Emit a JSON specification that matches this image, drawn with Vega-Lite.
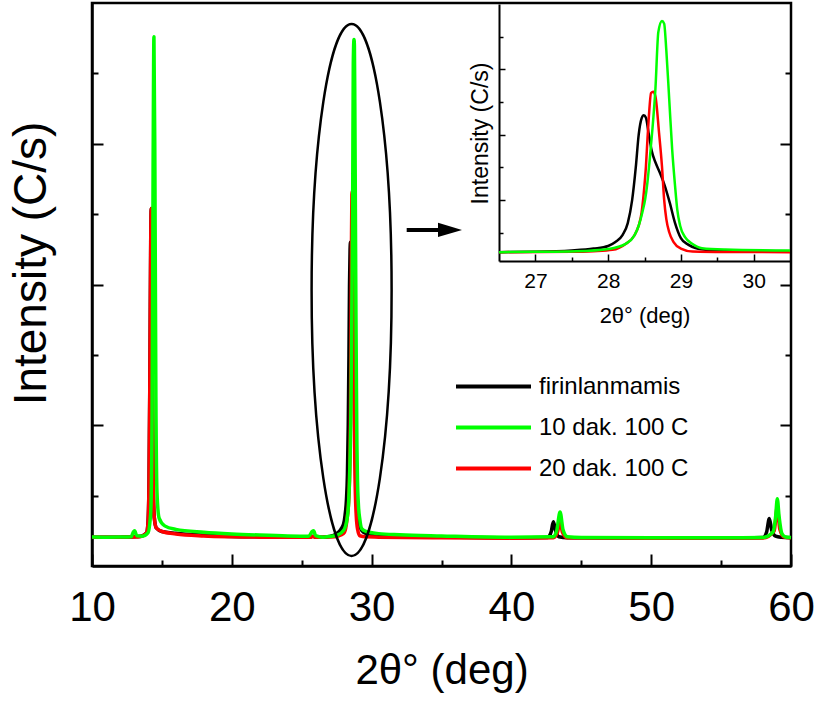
{
"$schema": "https://vega.github.io/schema/vega-lite/v6.json",
"width": 699, "height": 563,
"autosize": {"type": "none"},
"padding": {"left": 92, "top": 3, "right": 26, "bottom": 136},
"background": "white",
"config": {
  "view": {"stroke": "black", "strokeWidth": 2.5},
  "axis": {"domainColor": "black", "tickColor": "black", "labelColor": "black", "titleColor": "black", "labelFont": "Liberation Sans", "titleFont": "Liberation Sans", "grid": false, "titleFontWeight": "normal", "labelFlush": false, "labelOverlap": false, "tickWidth": 2, "domainWidth": 2.5},
  "legend": {"labelFont": "Liberation Sans", "labelColor": "black"}
},
"datasets": {
"xrd": [
{"sample":"firinlanmamis","theta":10,"intensity":205},{"sample":"firinlanmamis","theta":11,"intensity":204},{"sample":"firinlanmamis","theta":12,"intensity":205},{"sample":"firinlanmamis","theta":12.8,"intensity":206},{"sample":"firinlanmamis","theta":13.0,"intensity":208},{"sample":"firinlanmamis","theta":13.5,"intensity":212},{"sample":"firinlanmamis","theta":13.9,"intensity":235},{"sample":"firinlanmamis","theta":14.0,"intensity":300},{"sample":"firinlanmamis","theta":14.08,"intensity":600},{"sample":"firinlanmamis","theta":14.15,"intensity":1500},{"sample":"firinlanmamis","theta":14.2,"intensity":2300},{"sample":"firinlanmamis","theta":14.24,"intensity":2540},{"sample":"firinlanmamis","theta":14.28,"intensity":2200},{"sample":"firinlanmamis","theta":14.33,"intensity":1200},{"sample":"firinlanmamis","theta":14.38,"intensity":600},{"sample":"firinlanmamis","theta":14.45,"intensity":350},{"sample":"firinlanmamis","theta":14.6,"intensity":270},{"sample":"firinlanmamis","theta":15.0,"intensity":245},{"sample":"firinlanmamis","theta":16,"intensity":232},{"sample":"firinlanmamis","theta":18,"intensity":218},{"sample":"firinlanmamis","theta":20,"intensity":210},{"sample":"firinlanmamis","theta":22,"intensity":207},{"sample":"firinlanmamis","theta":24,"intensity":205},{"sample":"firinlanmamis","theta":25.6,"intensity":205},{"sample":"firinlanmamis","theta":25.8,"intensity":212},{"sample":"firinlanmamis","theta":26.0,"intensity":205},{"sample":"firinlanmamis","theta":26.5,"intensity":205},{"sample":"firinlanmamis","theta":27.0,"intensity":210},{"sample":"firinlanmamis","theta":27.5,"intensity":230},{"sample":"firinlanmamis","theta":27.8,"intensity":260},{"sample":"firinlanmamis","theta":28.0,"intensity":300},{"sample":"firinlanmamis","theta":28.1,"intensity":360},{"sample":"firinlanmamis","theta":28.2,"intensity":470},{"sample":"firinlanmamis","theta":28.27,"intensity":650},{"sample":"firinlanmamis","theta":28.33,"intensity":1000},{"sample":"firinlanmamis","theta":28.38,"intensity":1500},{"sample":"firinlanmamis","theta":28.42,"intensity":2000},{"sample":"firinlanmamis","theta":28.46,"intensity":2250},{"sample":"firinlanmamis","theta":28.49,"intensity":2300},{"sample":"firinlanmamis","theta":28.52,"intensity":2260},{"sample":"firinlanmamis","theta":28.56,"intensity":2000},{"sample":"firinlanmamis","theta":28.6,"intensity":1750},{"sample":"firinlanmamis","theta":28.65,"intensity":1580},{"sample":"firinlanmamis","theta":28.7,"intensity":1450},{"sample":"firinlanmamis","theta":28.77,"intensity":1250},{"sample":"firinlanmamis","theta":28.85,"intensity":950},{"sample":"firinlanmamis","theta":28.92,"intensity":650},{"sample":"firinlanmamis","theta":29.0,"intensity":420},{"sample":"firinlanmamis","theta":29.1,"intensity":320},{"sample":"firinlanmamis","theta":29.2,"intensity":270},{"sample":"firinlanmamis","theta":29.4,"intensity":240},{"sample":"firinlanmamis","theta":29.8,"intensity":225},{"sample":"firinlanmamis","theta":30.5,"intensity":220},{"sample":"firinlanmamis","theta":32,"intensity":212},{"sample":"firinlanmamis","theta":35,"intensity":206},{"sample":"firinlanmamis","theta":40,"intensity":200},{"sample":"firinlanmamis","theta":42.6,"intensity":203},{"sample":"firinlanmamis","theta":42.85,"intensity":245},{"sample":"firinlanmamis","theta":43.0,"intensity":314},{"sample":"firinlanmamis","theta":43.15,"intensity":255},{"sample":"firinlanmamis","theta":43.4,"intensity":208},{"sample":"firinlanmamis","theta":44,"intensity":200},{"sample":"firinlanmamis","theta":50,"intensity":198},{"sample":"firinlanmamis","theta":55,"intensity":199},{"sample":"firinlanmamis","theta":58,"intensity":203},{"sample":"firinlanmamis","theta":58.25,"intensity":240},{"sample":"firinlanmamis","theta":58.45,"intensity":337},{"sample":"firinlanmamis","theta":58.62,"intensity":255},{"sample":"firinlanmamis","theta":58.9,"intensity":212},{"sample":"firinlanmamis","theta":59.3,"intensity":204},{"sample":"firinlanmamis","theta":60,"intensity":200},

{"sample":"20 dak. 100 C","theta":10,"intensity":205},{"sample":"20 dak. 100 C","theta":11,"intensity":204},{"sample":"20 dak. 100 C","theta":12,"intensity":205},{"sample":"20 dak. 100 C","theta":13,"intensity":206},{"sample":"20 dak. 100 C","theta":13.5,"intensity":210},{"sample":"20 dak. 100 C","theta":13.9,"intensity":235},{"sample":"20 dak. 100 C","theta":14.0,"intensity":300},{"sample":"20 dak. 100 C","theta":14.08,"intensity":600},{"sample":"20 dak. 100 C","theta":14.15,"intensity":1500},{"sample":"20 dak. 100 C","theta":14.2,"intensity":2300},{"sample":"20 dak. 100 C","theta":14.24,"intensity":2540},{"sample":"20 dak. 100 C","theta":14.28,"intensity":2200},{"sample":"20 dak. 100 C","theta":14.33,"intensity":1200},{"sample":"20 dak. 100 C","theta":14.38,"intensity":600},{"sample":"20 dak. 100 C","theta":14.45,"intensity":350},{"sample":"20 dak. 100 C","theta":14.6,"intensity":270},{"sample":"20 dak. 100 C","theta":15.0,"intensity":245},{"sample":"20 dak. 100 C","theta":16,"intensity":228},{"sample":"20 dak. 100 C","theta":18,"intensity":214},{"sample":"20 dak. 100 C","theta":20,"intensity":208},{"sample":"20 dak. 100 C","theta":22,"intensity":205},{"sample":"20 dak. 100 C","theta":25.6,"intensity":204},{"sample":"20 dak. 100 C","theta":25.8,"intensity":210},{"sample":"20 dak. 100 C","theta":26.0,"intensity":204},{"sample":"20 dak. 100 C","theta":26.5,"intensity":205},{"sample":"20 dak. 100 C","theta":27.5,"intensity":210},{"sample":"20 dak. 100 C","theta":27.8,"intensity":220},{"sample":"20 dak. 100 C","theta":28.06,"intensity":240},{"sample":"20 dak. 100 C","theta":28.24,"intensity":330},{"sample":"20 dak. 100 C","theta":28.36,"intensity":460},{"sample":"20 dak. 100 C","theta":28.42,"intensity":610},{"sample":"20 dak. 100 C","theta":28.46,"intensity":810},{"sample":"20 dak. 100 C","theta":28.49,"intensity":1110},{"sample":"20 dak. 100 C","theta":28.52,"intensity":1520},{"sample":"20 dak. 100 C","theta":28.54,"intensity":1920},{"sample":"20 dak. 100 C","theta":28.56,"intensity":2280},{"sample":"20 dak. 100 C","theta":28.59,"intensity":2640},{"sample":"20 dak. 100 C","theta":28.62,"intensity":2660},{"sample":"20 dak. 100 C","theta":28.65,"intensity":2590},{"sample":"20 dak. 100 C","theta":28.7,"intensity":2030},{"sample":"20 dak. 100 C","theta":28.74,"intensity":1520},{"sample":"20 dak. 100 C","theta":28.77,"intensity":1010},{"sample":"20 dak. 100 C","theta":28.8,"intensity":710},{"sample":"20 dak. 100 C","theta":28.84,"intensity":510},{"sample":"20 dak. 100 C","theta":28.9,"intensity":360},{"sample":"20 dak. 100 C","theta":29.0,"intensity":260},{"sample":"20 dak. 100 C","theta":29.16,"intensity":215},{"sample":"20 dak. 100 C","theta":29.6,"intensity":207},{"sample":"20 dak. 100 C","theta":30.5,"intensity":205},{"sample":"20 dak. 100 C","theta":35,"intensity":200},{"sample":"20 dak. 100 C","theta":40,"intensity":198},{"sample":"20 dak. 100 C","theta":43.0,"intensity":200},{"sample":"20 dak. 100 C","theta":43.3,"intensity":240},{"sample":"20 dak. 100 C","theta":43.48,"intensity":320},{"sample":"20 dak. 100 C","theta":43.65,"intensity":240},{"sample":"20 dak. 100 C","theta":44.0,"intensity":200},{"sample":"20 dak. 100 C","theta":50,"intensity":197},{"sample":"20 dak. 100 C","theta":58,"intensity":199},{"sample":"20 dak. 100 C","theta":58.8,"intensity":250},{"sample":"20 dak. 100 C","theta":59.02,"intensity":420},{"sample":"20 dak. 100 C","theta":59.2,"intensity":260},{"sample":"20 dak. 100 C","theta":59.5,"intensity":205},{"sample":"20 dak. 100 C","theta":60,"intensity":200},

{"sample":"10 dak. 100 C","theta":10,"intensity":206},{"sample":"10 dak. 100 C","theta":11,"intensity":205},{"sample":"10 dak. 100 C","theta":12,"intensity":206},{"sample":"10 dak. 100 C","theta":12.8,"intensity":208},{"sample":"10 dak. 100 C","theta":12.95,"intensity":240},{"sample":"10 dak. 100 C","theta":13.05,"intensity":250},{"sample":"10 dak. 100 C","theta":13.2,"intensity":215},{"sample":"10 dak. 100 C","theta":13.6,"intensity":212},{"sample":"10 dak. 100 C","theta":14.0,"intensity":235},{"sample":"10 dak. 100 C","theta":14.2,"intensity":380},{"sample":"10 dak. 100 C","theta":14.3,"intensity":1100},{"sample":"10 dak. 100 C","theta":14.37,"intensity":2800},{"sample":"10 dak. 100 C","theta":14.43,"intensity":3760},{"sample":"10 dak. 100 C","theta":14.5,"intensity":2800},{"sample":"10 dak. 100 C","theta":14.57,"intensity":1200},{"sample":"10 dak. 100 C","theta":14.65,"intensity":520},{"sample":"10 dak. 100 C","theta":14.8,"intensity":340},{"sample":"10 dak. 100 C","theta":15.2,"intensity":285},{"sample":"10 dak. 100 C","theta":16,"intensity":260},{"sample":"10 dak. 100 C","theta":18,"intensity":240},{"sample":"10 dak. 100 C","theta":20,"intensity":228},{"sample":"10 dak. 100 C","theta":22,"intensity":220},{"sample":"10 dak. 100 C","theta":24,"intensity":214},{"sample":"10 dak. 100 C","theta":25.5,"intensity":212},{"sample":"10 dak. 100 C","theta":25.75,"intensity":245},{"sample":"10 dak. 100 C","theta":25.85,"intensity":250},{"sample":"10 dak. 100 C","theta":26.0,"intensity":215},{"sample":"10 dak. 100 C","theta":26.5,"intensity":205},{"sample":"10 dak. 100 C","theta":27.0,"intensity":210},{"sample":"10 dak. 100 C","theta":27.56,"intensity":220},{"sample":"10 dak. 100 C","theta":28.01,"intensity":255},{"sample":"10 dak. 100 C","theta":28.24,"intensity":331},{"sample":"10 dak. 100 C","theta":28.36,"intensity":458},{"sample":"10 dak. 100 C","theta":28.42,"intensity":609},{"sample":"10 dak. 100 C","theta":28.47,"intensity":812},{"sample":"10 dak. 100 C","theta":28.51,"intensity":1020},{"sample":"10 dak. 100 C","theta":28.54,"intensity":1270},{"sample":"10 dak. 100 C","theta":28.57,"intensity":1600},{"sample":"10 dak. 100 C","theta":28.61,"intensity":2100},{"sample":"10 dak. 100 C","theta":28.65,"intensity":2700},{"sample":"10 dak. 100 C","theta":28.69,"intensity":3570},{"sample":"10 dak. 100 C","theta":28.74,"intensity":3740},{"sample":"10 dak. 100 C","theta":28.77,"intensity":3700},{"sample":"10 dak. 100 C","theta":28.8,"intensity":3290},{"sample":"10 dak. 100 C","theta":28.84,"intensity":2540},{"sample":"10 dak. 100 C","theta":28.88,"intensity":1780},{"sample":"10 dak. 100 C","theta":28.92,"intensity":1220},{"sample":"10 dak. 100 C","theta":28.95,"intensity":860},{"sample":"10 dak. 100 C","theta":28.99,"intensity":610},{"sample":"10 dak. 100 C","theta":29.06,"intensity":430},{"sample":"10 dak. 100 C","theta":29.16,"intensity":330},{"sample":"10 dak. 100 C","theta":29.29,"intensity":265},{"sample":"10 dak. 100 C","theta":29.61,"intensity":245},{"sample":"10 dak. 100 C","theta":30.5,"intensity":230},{"sample":"10 dak. 100 C","theta":32,"intensity":222},{"sample":"10 dak. 100 C","theta":35,"intensity":214},{"sample":"10 dak. 100 C","theta":40,"intensity":205},{"sample":"10 dak. 100 C","theta":43.0,"intensity":208},{"sample":"10 dak. 100 C","theta":43.25,"intensity":255},{"sample":"10 dak. 100 C","theta":43.48,"intensity":384},{"sample":"10 dak. 100 C","theta":43.7,"intensity":255},{"sample":"10 dak. 100 C","theta":44.0,"intensity":208},{"sample":"10 dak. 100 C","theta":45,"intensity":202},{"sample":"10 dak. 100 C","theta":50,"intensity":200},{"sample":"10 dak. 100 C","theta":55,"intensity":200},{"sample":"10 dak. 100 C","theta":58,"intensity":203},{"sample":"10 dak. 100 C","theta":58.7,"intensity":240},{"sample":"10 dak. 100 C","theta":58.9,"intensity":350},{"sample":"10 dak. 100 C","theta":59.02,"intensity":477},{"sample":"10 dak. 100 C","theta":59.15,"intensity":350},{"sample":"10 dak. 100 C","theta":59.35,"intensity":230},{"sample":"10 dak. 100 C","theta":59.6,"intensity":206},{"sample":"10 dak. 100 C","theta":60,"intensity":202}
]
},
"data": {"name": "xrd"},
"resolve": {"scale": {"x": "independent", "y": "independent"}, "axis": {"x": "independent", "y": "independent"}},
"layer": [
{
  "transform": [{"filter": "datum.sample === 'firinlanmamis'"}],
  "mark": {"type": "line", "strokeWidth": 3.5, "interpolate": "monotone", "strokeJoin": "round"},
  "encoding": {
    "x": {"field": "theta", "type": "quantitative", "scale": {"domain": [10, 60], "nice": false},
      "axis": {"orient": "bottom", "values": [10, 20, 30, 40, 50, 60], "tickSize": -12, "labelFontSize": 42, "labelPadding": 33, "title": "2θ° (deg)", "titleFontSize": 42, "titlePadding": 22}},
    "y": {"field": "intensity", "type": "quantitative", "scale": {"domain": [0, 4000], "nice": false},
      "axis": {"orient": "left", "values": [1000, 2000, 3000], "tickSize": -11, "labels": false, "title": "Intensity (C/s)", "titleFontSize": 46, "titleX": -37, "titleY": 260}},
    "color": {"field": "sample", "type": "nominal",
      "scale": {"domain": ["firinlanmamis", "10 dak. 100 C", "20 dak. 100 C"], "range": ["#000000", "#00ff00", "#ff0000"]},
      "legend": {"orient": "none", "legendX": 387, "legendY": 369, "title": null, "symbolType": "M -3 0 L 3 0", "symbolSize": 625, "symbolStrokeWidth": 4, "labelFontSize": 24, "labelOffset": 31, "rowPadding": 14}}
  }
},
{
  "transform": [{"filter": "datum.sample === '20 dak. 100 C'"}],
  "mark": {"type": "line", "strokeWidth": 3.5, "interpolate": "monotone", "strokeJoin": "round"},
  "encoding": {
    "x": {"field": "theta", "type": "quantitative", "scale": {"domain": [10, 60], "nice": false},
      "axis": {"orient": "bottom", "values": [15, 25, 35, 45, 55], "tickSize": -6, "labels": false, "domain": false, "title": null}},
    "y": {"field": "intensity", "type": "quantitative", "scale": {"domain": [0, 4000], "nice": false},
      "axis": {"orient": "left", "values": [500, 1500, 2500, 3500], "tickSize": -6, "labels": false, "domain": false, "title": null}},
    "color": {"field": "sample", "type": "nominal"}
  }
},
{
  "transform": [{"filter": "datum.sample === '10 dak. 100 C'"}],
  "mark": {"type": "line", "strokeWidth": 3.5, "interpolate": "monotone", "strokeJoin": "round"},
  "encoding": {
    "x": {"field": "theta", "type": "quantitative", "scale": {"domain": [10, 60], "nice": false}, "axis": null},
    "y": {"field": "intensity", "type": "quantitative", "scale": {"domain": [0, 4000], "nice": false},
      "axis": {"orient": "right", "values": [1000, 2000, 3000], "tickSize": -11, "labels": false, "domain": false, "title": null}},
    "color": {"field": "sample", "type": "nominal"}
  }
},
{
  "data": {"values": [{"theta": 28.57, "intensity": 1961}]},
  "mark": {"type": "point", "shape": "M 0 -1 A 0.1504 1 0 1 1 0 1 A 0.1504 1 0 1 1 0 -1 Z", "size": 283024, "filled": false, "stroke": "black", "strokeWidth": 2.5, "opacity": 1},
  "encoding": {
    "x": {"field": "theta", "type": "quantitative", "scale": {"domain": [10, 60], "nice": false}, "axis": null},
    "y": {"field": "intensity", "type": "quantitative", "scale": {"domain": [0, 4000], "nice": false},
      "axis": {"orient": "right", "values": [500, 1500, 2500, 3500], "tickSize": -6, "labels": false, "domain": false, "title": null}}
  }
},
{
  "data": {"values": [{"theta": 32.51, "theta2": 34.9, "intensity": 2388}]},
  "mark": {"type": "rule", "strokeWidth": 4, "color": "black"},
  "encoding": {
    "x": {"field": "theta", "type": "quantitative", "scale": {"domain": [10, 60], "nice": false}, "axis": null},
    "x2": {"field": "theta2"},
    "y": {"field": "intensity", "type": "quantitative", "scale": {"domain": [0, 4000], "nice": false}, "axis": null}
  }
},
{
  "data": {"values": [{"theta": 35.61, "intensity": 2388}]},
  "mark": {"type": "point", "shape": "M -1 -0.6 L 1 0 L -1 0.6 Z", "size": 576, "filled": true, "color": "black", "opacity": 1},
  "encoding": {
    "x": {"field": "theta", "type": "quantitative", "scale": {"domain": [10, 60], "nice": false}, "axis": null},
    "y": {"field": "intensity", "type": "quantitative", "scale": {"domain": [0, 4000], "nice": false}, "axis": null}
  }
},
{
  "transform": [{"filter": "datum.sample === 'firinlanmamis' && datum.theta >= 26.5 && datum.theta <= 30.5"}],
  "mark": {"type": "line", "strokeWidth": 2.5, "interpolate": "monotone", "strokeJoin": "round"},
  "encoding": {
    "x": {"field": "theta", "type": "quantitative", "scale": {"domain": [26.5, 30.5], "range": [407, 698], "nice": false},
      "axis": {"orient": "bottom", "offset": -305, "values": [27, 28, 29, 30], "tickSize": -7, "tickWidth": 1.5, "domainWidth": 2, "labelFontSize": 21, "labelPadding": 16, "title": "2θ° (deg)", "titleFontSize": 22, "titlePadding": 14}},
    "y": {"field": "intensity", "type": "quantitative", "scale": {"domain": [70, 4000], "range": [258, 1], "nice": false, "zero": false},
      "axis": {"orient": "left", "offset": -407, "values": [1000, 2000, 3000], "tickSize": -6, "tickWidth": 1.5, "domainWidth": 2, "labels": false, "title": "Intensity (C/s)", "titleFontSize": 23, "titleX": -7, "titleY": 130}},
    "color": {"field": "sample", "type": "nominal"}
  }
},
{
  "transform": [{"filter": "datum.sample === '20 dak. 100 C' && datum.theta >= 26.5 && datum.theta <= 30.5"}],
  "mark": {"type": "line", "strokeWidth": 2.5, "interpolate": "monotone", "strokeJoin": "round"},
  "encoding": {
    "x": {"field": "theta", "type": "quantitative", "scale": {"domain": [26.5, 30.5], "range": [407, 698], "nice": false},
      "axis": {"orient": "bottom", "offset": -305, "values": [27.5, 28.5, 29.5], "tickSize": -4, "tickWidth": 1.5, "labels": false, "domain": false, "title": null}},
    "y": {"field": "intensity", "type": "quantitative", "scale": {"domain": [70, 4000], "range": [258, 1], "nice": false, "zero": false},
      "axis": {"orient": "left", "offset": -407, "values": [500, 1500, 2500, 3500], "tickSize": -4, "tickWidth": 1.5, "labels": false, "domain": false, "title": null}},
    "color": {"field": "sample", "type": "nominal"}
  }
},
{
  "transform": [{"filter": "datum.sample === '10 dak. 100 C' && datum.theta >= 26.5 && datum.theta <= 30.5"}],
  "mark": {"type": "line", "strokeWidth": 2.5, "interpolate": "monotone", "strokeJoin": "round"},
  "encoding": {
    "x": {"field": "theta", "type": "quantitative", "scale": {"domain": [26.5, 30.5], "range": [407, 698], "nice": false}, "axis": null},
    "y": {"field": "intensity", "type": "quantitative", "scale": {"domain": [70, 4000], "range": [258, 1], "nice": false, "zero": false}, "axis": null},
    "color": {"field": "sample", "type": "nominal"}
  }
}
]
}
